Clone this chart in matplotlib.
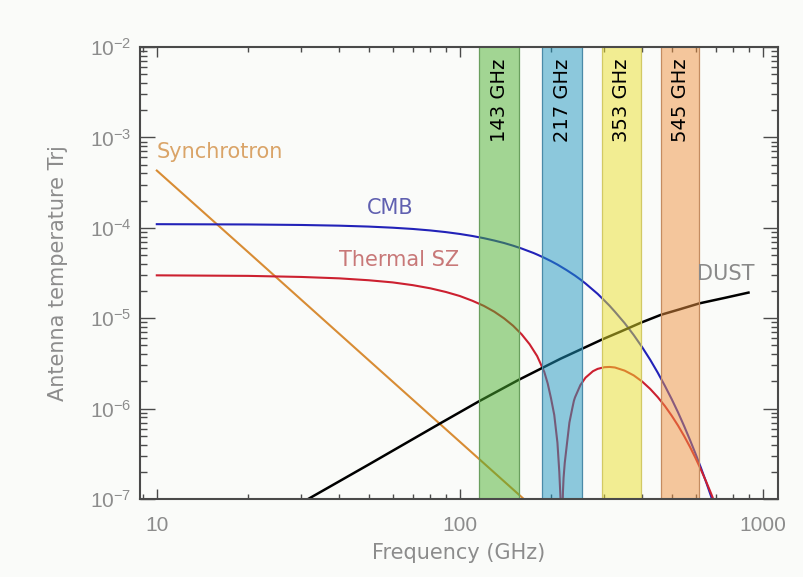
import matplotlib
matplotlib.use('Agg')
import matplotlib.pyplot as plt
from matplotlib.ticker import LogLocator, FixedLocator, NullFormatter

# values (antenna temperature, K)
cmb_freq = [10, 20, 30, 40, 50, 60, 70, 80, 90, 100, 110, 120, 130, 140, 150, 160, 175, 180,
            190, 200, 210, 225, 240, 250, 260, 275, 285, 300, 312, 325, 350, 375, 400, 425,
            450, 475, 500, 525, 550, 575, 600, 625, 650, 675, 700]
cmb_temp = [1.097e-4, 1.089e-4, 1.075e-4, 1.056e-4, 1.032e-4, 1.003e-4, 9.71e-5, 9.35e-5,
            8.96e-5, 8.55e-5, 8.12e-5, 7.68e-5, 7.23e-5, 6.79e-5, 6.34e-5, 5.90e-5, 5.27e-5,
            5.06e-5, 4.66e-5, 4.28e-5, 3.92e-5, 3.41e-5, 2.96e-5, 2.68e-5, 2.42e-5, 2.06e-5,
            1.86e-5, 1.57e-5, 1.375e-5, 1.18e-5, 8.82e-6, 6.51e-6, 4.77e-6, 3.47e-6, 2.50e-6,
            1.79e-6, 1.28e-6, 9.1e-7, 6.41e-7, 4.5e-7, 3.16e-7, 2.21e-7, 1.54e-7, 1.07e-7, 7.4e-8]

sz_freq = [10, 20, 30, 40, 50, 60, 70, 80, 90, 100, 110, 120, 130, 140, 150, 160, 170, 180,
           190, 195, 200, 205, 210, 213, 215, 216, 217, 218, 219, 220, 222, 225, 230, 235,
           238, 240, 250, 260, 275, 285, 300, 312, 325, 350, 375, 400, 425, 450, 475, 500,
           525, 550, 575, 600, 625, 650, 675, 700]
sz_temp = [2.98e-5, 2.94e-5, 2.86e-5, 2.76e-5, 2.63e-5, 2.49e-5, 2.32e-5, 2.14e-5, 1.95e-5,
           1.76e-5, 1.56e-5, 1.37e-5, 1.18e-5, 9.96e-6, 8.24e-6, 6.63e-6, 5.15e-6, 3.81e-6,
           2.55e-6, 1.9e-6, 1.3e-6, 8.5e-7, 4.2e-7, 2.0e-7, 1.0e-7, 5.5e-8, 3.6e-8, 6.0e-8,
           1.2e-7, 1.7e-7, 2.5e-7, 3.7e-7, 7.0e-7, 1.0e-6, 1.22e-6, 1.33e-6, 1.82e-6,
           2.2e-6, 2.59e-6, 2.75e-6, 2.87e-6, 2.89e-6, 2.85e-6, 2.63e-6, 2.33e-6, 1.99e-6,
           1.65e-6, 1.34e-6, 1.07e-6, 8.38e-7, 6.5e-7, 4.97e-7, 3.77e-7, 2.83e-7, 2.11e-7,
           1.56e-7, 1.15e-7, 8.4e-8]

sync_freq = [10, 20, 50, 100, 170]
sync_temp = [4.3e-4, 5.4e-5, 3.44e-6, 4.3e-7, 8.75e-8]

dust_freq = [31.6, 50, 86.4, 116, 156, 215, 250, 295, 340, 397, 461, 530, 618, 750, 897]
dust_temp = [1.0e-7, 2.4e-7, 6.9e-7, 1.21e-6, 2.07e-6, 3.56e-6, 4.5e-6, 5.82e-6, 7.13e-6,
             8.95e-6, 1.09e-5, 1.25e-5, 1.46e-5, 1.68e-5, 1.92e-5]

band_names = ['143 GHz', '217 GHz', '353 GHz', '545 GHz']
band_lo = [116, 187, 295, 461]
band_hi = [156.5, 253.5, 397, 618]
band_face = ['#4bb02f', '#1f97c1', '#ebe12d', '#ef9341']
band_edge = ['#6a9f5e', '#4a8aa8', '#d2c964', '#c48c60']

x_ticks = [10, 100, 1000]
y_ticks = [1e-7, 1e-6, 1e-5, 1e-4, 1e-3, 1e-2]
y_tick_labels = [r'$\mathregular{10^{-7}}$', r'$\mathregular{10^{-6}}$', r'$\mathregular{10^{-5}}$',
                 r'$\mathregular{10^{-4}}$', r'$\mathregular{10^{-3}}$', r'$\mathregular{10^{-2}}$']

plt.rcParams['font.family'] = ['Liberation Sans', 'DejaVu Sans']
plt.rcParams['mathtext.fontset'] = 'custom'
plt.rcParams['mathtext.rm'] = 'Liberation Sans'

BG = '#fafbf9'
AX_COL = '#4a4a4a'
TXT_COL = '#8c8c8c'
LABEL_FONT = ['DejaVu Sans']

fig = plt.figure(figsize=(8.04, 5.77), dpi=100, facecolor=BG)
ax = fig.add_axes([0.1741, 0.1352, 0.9673 - 0.1741, 0.9185 - 0.1352])
ax.set_facecolor(BG)
ax.set_xscale('log')
ax.set_yscale('log')

ax.plot(sync_freq, sync_temp, color='#d88c34', lw=1.5, zorder=2)
ax.plot(cmb_freq, cmb_temp, color='#2222b8', lw=1.5, zorder=2)
ax.plot(sz_freq, sz_temp, color='#cc2030', lw=1.5, zorder=2)
ax.plot(dust_freq, dust_temp, color='black', lw=1.8, zorder=2)

for name, lo, hi, fc, ec in zip(band_names, band_lo, band_hi, band_face, band_edge):
    ax.axvspan(lo, hi, facecolor=fc, alpha=0.5, edgecolor='none', zorder=3)
    ax.axvline(lo, color=ec, lw=0.9, zorder=3)
    ax.axvline(hi, color=ec, lw=0.9, zorder=3)
    ax.text((lo * hi) ** 0.5, 0.975, name, transform=ax.get_xaxis_transform(),
            rotation=90, ha='center', va='top', fontsize=14, family='DejaVu Sans',
            color='black', zorder=4)

ax.text(10, 6.9e-4, 'Synchrotron', color='#daa468', fontsize=15, va='center', ha='left',
        family=LABEL_FONT)
ax.text(49.3, 1.64e-4, 'CMB', color='#6060b0', fontsize=15, va='center', ha='left',
        family=LABEL_FONT)
ax.text(40.0, 4.4e-5, 'Thermal SZ', color='#c87878', fontsize=15, va='center', ha='left',
        family=LABEL_FONT)
ax.text(607, 3.08e-5, 'DUST', color='#8a8a8a', fontsize=15, va='center', ha='left',
        family=LABEL_FONT)

ax.set_xlim(8.8, 1120)
ax.set_ylim(1e-7, 1e-2)

ax.xaxis.set_major_locator(FixedLocator(x_ticks))
ax.set_xticklabels(['10', '100', '1000'])
ax.xaxis.set_minor_locator(LogLocator(base=10, subs=range(2, 10), numticks=20))
ax.xaxis.set_minor_formatter(NullFormatter())
ax.yaxis.set_major_locator(FixedLocator(y_ticks))
ax.set_yticklabels(y_tick_labels)
ax.yaxis.set_minor_locator(LogLocator(base=10, subs=range(2, 10), numticks=20))
ax.yaxis.set_minor_formatter(NullFormatter())

ax.tick_params(axis='both', which='both', direction='in', top=True, right=True,
               color=AX_COL, width=1.0, labelcolor=TXT_COL, labelsize=15)
ax.tick_params(axis='x', which='major', length=7.5, pad=12)
ax.tick_params(axis='x', which='minor', length=3.8)
ax.tick_params(axis='y', which='major', length=10.5, pad=6)
ax.tick_params(axis='y', which='minor', length=5)

for sp in ax.spines.values():
    sp.set_color(AX_COL)
    sp.set_linewidth(1.5)
    sp.set_zorder(5)

ax.set_xlabel('Frequency (GHz)', color=TXT_COL, fontsize=15, labelpad=6, family=LABEL_FONT)
ax.set_ylabel('Antenna temperature Trj', color=TXT_COL, fontsize=15, labelpad=16,
              family=LABEL_FONT)

fig.savefig('out.png', dpi=100, facecolor=BG)
